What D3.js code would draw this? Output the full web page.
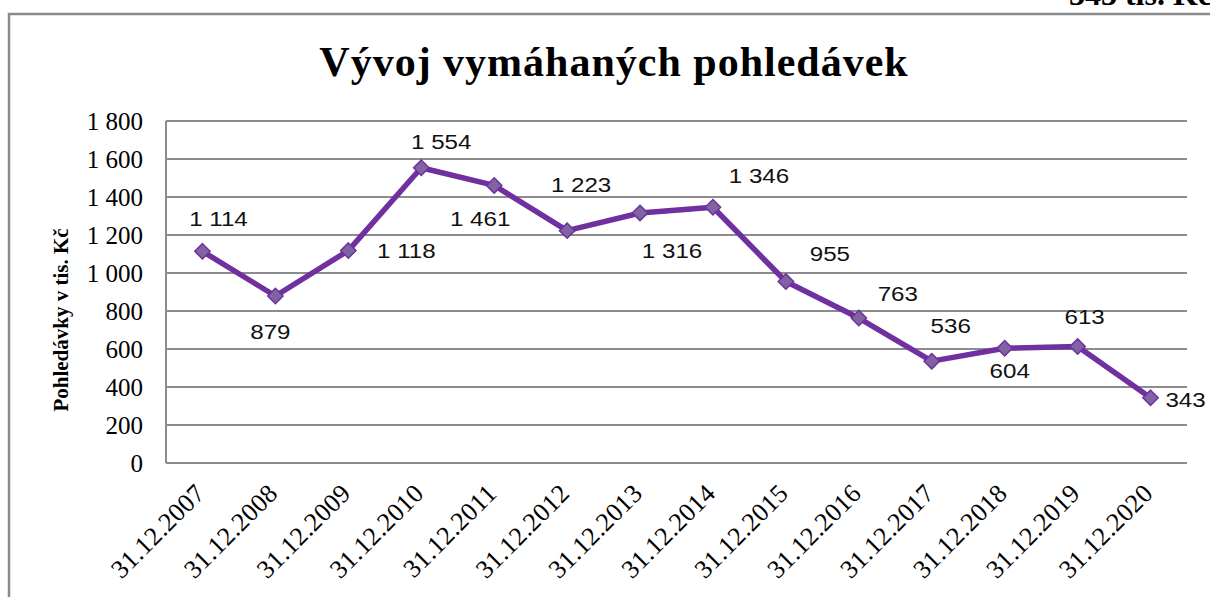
<!DOCTYPE html>
<html><head><meta charset="utf-8">
<script src="https://cdn.jsdelivr.net/npm/d3@7"></script>
<style>html,body{margin:0;padding:0;background:#fff;overflow:hidden}</style>
</head><body>
<svg id="c" width="1210" height="597"></svg>
<script>
const categories = ["31.12.2007","31.12.2008","31.12.2009","31.12.2010","31.12.2011","31.12.2012","31.12.2013","31.12.2014","31.12.2015","31.12.2016","31.12.2017","31.12.2018","31.12.2019","31.12.2020"];
const values = [1114, 879, 1118, 1554, 1461, 1223, 1316, 1346, 955, 763, 536, 604, 613, 343];
const yTicks = [0,200,400,600,800,1000,1200,1400,1600,1800];
const title = "Vývoj vymáhaných pohledávek";
const yTitle = "Pohledávky v tis. Kč";
const topText = "343 tis. Kč";

// layout: manual data-label nudges (px) as placed in the original chart
const labelNudge = [[16,-33],[-5,35],[58,0],[20,-26],[-14,33],[14,-46],[32,37],[46,-32],[44,-28],[39,-25],[19,-36],[5,22],[7,-30],[35,2]];

const svg = d3.select("#c");
const fmtLbl = v => d3.format(",")(v).replace(/,/g, " ");

// document frame
svg.append("path").attr("d","M9,597 V14 H1212").attr("fill","none").attr("stroke","#8a8a8a").attr("stroke-width",2.5);
svg.append("text").attr("x",1212).attr("y",5).attr("text-anchor","end")
  .attr("font-family","Liberation Serif").attr("font-weight","bold").attr("font-size",32).text(topText);

const m = {l:166, r:1187, t:121, b:463};
const x = d3.scaleBand().domain(categories).range([m.l, m.r]);
const y = d3.scaleLinear().domain([0,1800]).range([m.b, m.t]);

// gridlines
const g = svg.append("g");
g.selectAll("line.grid").data(yTicks).join("line")
  .attr("x1",m.l).attr("x2",m.r).attr("y1",d=>y(d)).attr("y2",d=>y(d))
  .attr("stroke","#8c8c8c").attr("stroke-width",2);
g.append("line").attr("x1",m.l).attr("x2",m.l).attr("y1",m.t).attr("y2",m.b).attr("stroke","#8c8c8c").attr("stroke-width",2);

// y axis labels
const yAxis = d3.axisLeft(y).tickValues(yTicks).tickSize(0).tickPadding(23).tickFormat(d=>fmtLbl(d));
const ya = svg.append("g").attr("transform",`translate(${m.l},0)`).call(yAxis);
ya.select(".domain").remove();
ya.selectAll("text").attr("font-family","Liberation Serif").attr("font-size",25).attr("fill","#000").attr("dy","0.33em");

// x axis labels
const xAxis = d3.axisBottom(x).tickSize(0).tickPadding(0);
const xa = svg.append("g").attr("transform",`translate(0,${m.b})`).call(xAxis);
xa.select(".domain").remove();
xa.selectAll("text").attr("font-family","Liberation Serif").attr("font-size",26).attr("fill","#000")
  .attr("text-anchor","end").attr("letter-spacing","0.3px")
  .attr("transform","translate(-9,19) rotate(-45)").attr("dy","0.7em").attr("x",0).attr("y",0);

// title
svg.append("text").attr("x",614).attr("y",76).attr("text-anchor","middle")
  .attr("font-family","Liberation Serif").attr("font-weight","bold").attr("font-size",42).attr("letter-spacing","1px").text(title);

// y title
svg.append("text").attr("transform",`translate(68,320) rotate(-90)`).attr("text-anchor","middle")
  .attr("font-family","Liberation Serif").attr("font-weight","bold").attr("font-size",21).text(yTitle);

// line
const cx = d => x(d) + x.bandwidth()/2;
const line = d3.line().x((d,i)=>cx(categories[i])).y(d=>y(d));
svg.append("path").datum(values).attr("d",line).attr("fill","none").attr("stroke","#7030A0").attr("stroke-width",5.5).attr("stroke-linejoin","round");

// markers
svg.selectAll("path.mk").data(values).join("path")
  .attr("d", d3.symbol().type(d3.symbolDiamond2).size(150))
  .attr("transform",(d,i)=>`translate(${cx(categories[i])},${y(d)})`)
  .attr("fill","#8064A2").attr("stroke","#7030A0").attr("stroke-width",1.5);

// labels
svg.selectAll("text.lbl").data(values).join("text")
  .attr("transform",(d,i)=>`translate(${cx(categories[i]) + labelNudge[i][0]},${y(d) + labelNudge[i][1]}) scale(1.15,1)`)
  .attr("dy","0.36em").attr("text-anchor","middle")
  .attr("font-family","Liberation Sans").attr("font-size",21).attr("fill","#111")
  .text(d=>fmtLbl(d));
</script>
</body></html>
